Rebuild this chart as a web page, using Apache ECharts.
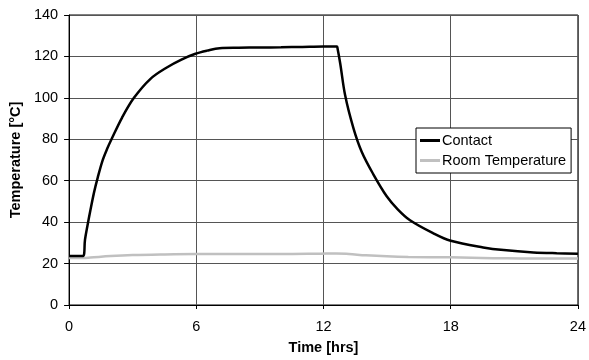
<!DOCTYPE html>
<html>
<head>
<meta charset="utf-8">
<script src="https://cdn.jsdelivr.net/npm/echarts@6/dist/echarts.min.js"></script>
<style>html,body{margin:0;padding:0;background:#fff}#c{width:589px;height:360px}</style>
</head>
<body>
<div id="c"></div>
<script>
var seriesNames = ['Contact', 'Room Temperature'];
var xTicks = [0, 6, 12, 18, 24];
var yTicks = [0, 20, 40, 60, 80, 100, 120, 140];

var contactTime = [0, 0.66, 0.75, 0.87, 1.0, 1.18, 1.35, 1.57, 1.8, 2.0, 2.5, 3.06, 3.84, 4.63, 5.3, 5.96, 6.5, 7.1, 8, 9, 10, 11, 12, 12.63, 12.66, 12.79, 13.02, 13.41, 13.8, 14.35, 14.98, 15.5, 16.08, 17.18, 18.0, 19.53, 20.5, 21.9, 23.0, 24];
var contactTemp = [23.6, 23.6, 31.5, 38.5, 45.5, 54.5, 61.5, 69.5, 75.5, 80.0, 90.5, 100.0, 109.2, 114.8, 118.5, 121.3, 122.8, 124.0, 124.2, 124.3, 124.4, 124.6, 124.8, 124.8, 124.0, 116.5, 101.2, 85.4, 74.0, 63.1, 52.5, 46.2, 40.9, 34.6, 31.0, 27.8, 26.5, 25.4, 25.0, 24.8];

var roomTime = [0, 0.66, 1.0, 1.96, 3.0, 4.3, 6, 8, 10, 11.85, 12.6, 13.2, 14.0, 14.98, 16.0, 17.96, 20.0, 21.3, 22.5, 24];
var roomTemp = [22.7, 22.7, 22.9, 23.6, 24.1, 24.4, 24.6, 24.6, 24.6, 24.8, 24.9, 24.6, 24.0, 23.5, 23.2, 23.0, 22.6, 22.5, 22.4, 22.4];

function zip(a, b) { return a.map(function (v, i) { return [v, b[i]]; }); }

var FONT = 'Liberation Sans, Arial, sans-serif';
var FS = 14.5;
var chart = echarts.init(document.getElementById('c'), null, { renderer: 'canvas' });
chart.setOption({
  animation: false,
  backgroundColor: '#fff',
  textStyle: { fontFamily: FONT, color: '#000' },
  grid: { left: 68, right: 11, top: 15, bottom: 51, show: true, borderColor: '#000', borderWidth: 1, backgroundColor: 'transparent' },
  legend: {
    orient: 'vertical',
    left: 416, top: 128,
    padding: [5, 5, 5, 4],
    itemWidth: 20, itemHeight: 3,
    itemGap: 5,
    icon: 'rect',
    backgroundColor: '#fff',
    borderColor: '#000', borderWidth: 1, borderRadius: 0,
    textStyle: { fontFamily: FONT, fontSize: FS, color: '#000', padding: [0, 0, 0, -3] },
    data: seriesNames
  },
  xAxis: {
    type: 'value', min: xTicks[0], max: xTicks[xTicks.length - 1], interval: 6,
    name: 'Time [hrs]', nameLocation: 'middle', nameGap: 35,
    nameTextStyle: { fontFamily: FONT, fontSize: FS, fontWeight: 'bold', color: '#000' },
    axisLine: { show: true, lineStyle: { color: '#000', width: 1 } },
    axisTick: { show: true, length: 4, lineStyle: { color: '#000' } },
    axisLabel: { fontFamily: FONT, fontSize: FS, color: '#000', margin: 14 },
    splitLine: { show: true, lineStyle: { color: '#555', width: 1 } }
  },
  yAxis: {
    type: 'value', min: yTicks[0], max: yTicks[yTicks.length - 1], interval: 20,
    name: 'Temperature [°C]', nameLocation: 'middle', nameGap: 35, nameRotate: 90,
    nameTextStyle: { fontFamily: FONT, fontSize: FS, fontWeight: 'bold', color: '#000' },
    axisLine: { show: true, lineStyle: { color: '#000', width: 1 } },
    axisTick: { show: true, length: 5, lineStyle: { color: '#000' } },
    axisLabel: { fontFamily: FONT, fontSize: FS, color: '#000', margin: 11 },
    splitLine: { show: true, lineStyle: { color: '#555', width: 1 } }
  },
  series: [
    {
      name: seriesNames[0], type: 'line', data: zip(contactTime, contactTemp),
      showSymbol: false, symbol: 'none', smooth: 0.35, z: 3,
      lineStyle: { color: '#000', width: 2.5 }, itemStyle: { color: '#000' }
    },
    {
      name: seriesNames[1], type: 'line', data: zip(roomTime, roomTemp),
      showSymbol: false, symbol: 'none', smooth: 0.35, z: 2,
      lineStyle: { color: '#c0c0c0', width: 2.5 }, itemStyle: { color: '#c0c0c0' }
    }
  ]
});
</script>
</body>
</html>
